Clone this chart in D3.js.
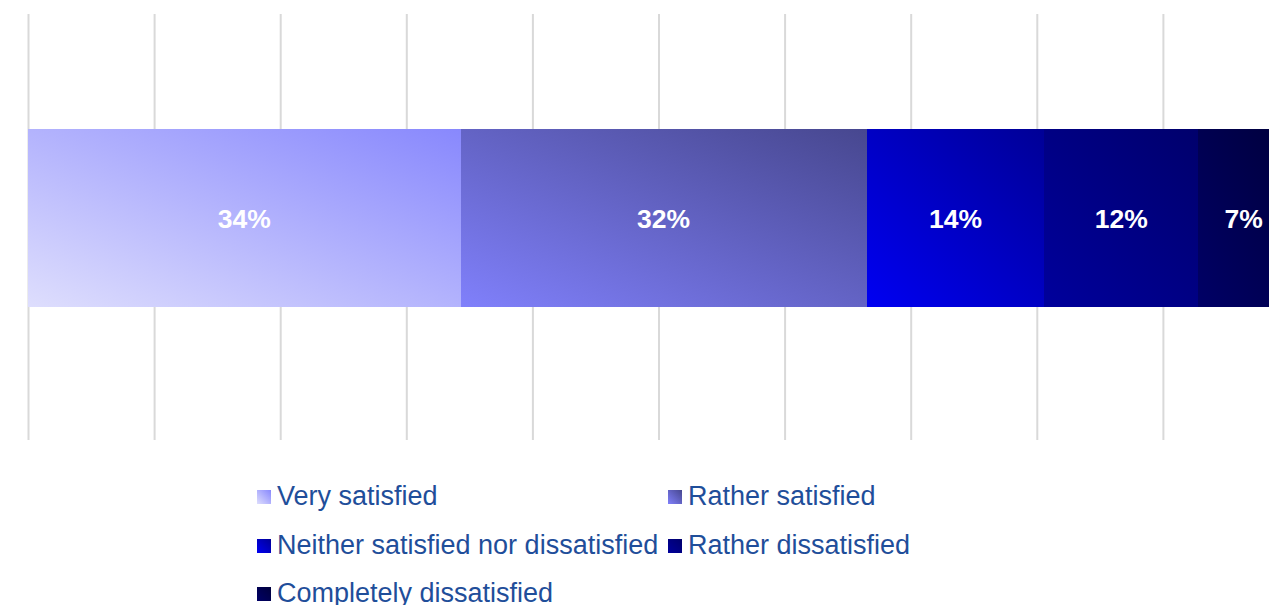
<!DOCTYPE html>
<html>
<head>
<meta charset="utf-8">
<script src="https://cdn.jsdelivr.net/npm/d3@7"></script>
<style>
  html, body { margin: 0; padding: 0; background: #fff; overflow: hidden; }
  svg { display: block; font-family: "Liberation Sans", Arial, sans-serif; }
</style>
</head>
<body>
<svg id="chart" width="1269" height="605"></svg>
<script>
const categories = ["Very satisfied", "Rather satisfied", "Neither satisfied nor dissatisfied", "Rather dissatisfied", "Completely dissatisfied"];
const values = [34.3, 32.2, 14.1, 12.2, 7.2];
const tickValues = [0, 10, 20, 30, 40, 50, 60, 70, 80, 90, 100];
// gradient stops per series: [start (bottom-left), end (top-right)]
const gradStops = [
  ["#dedefd", "#8888fd"],
  ["#8080fb", "#47478f"],
  ["#0000f2", "#000096"],
  ["#00009c", "#00006c"],
  ["#000066", "#00003c"]
];

const svg = d3.select("#chart");

const x = d3.scaleLinear().domain([0, 100]).range([28, 1289]);
const y = d3.scaleBand().domain(["all"]).range([129, 307]).padding(0);

const defs = svg.append("defs");
gradStops.forEach((s, i) => {
  const g = defs.append("linearGradient").attr("id", "g" + i)
    .attr("x1", 0).attr("y1", 1).attr("x2", 1).attr("y2", 0);
  g.append("stop").attr("offset", 0).attr("stop-color", s[0]);
  g.append("stop").attr("offset", 1).attr("stop-color", s[1]);
});

// gridlines
const grid = svg.append("g").attr("transform", "translate(0,440)")
  .call(d3.axisBottom(x).tickValues(tickValues).tickSize(-426).tickFormat(""));
grid.select(".domain").remove();
grid.selectAll(".tick line").attr("stroke", "#d9d9d9").attr("stroke-width", 2);

// stacked data
let cum = 0;
const segs = values.map((v, i) => { const s = { i, v, x0: cum, x1: cum + v }; cum += v; return s; });

const barY = y("all"), barH = y.bandwidth();
svg.append("g").selectAll("rect").data(segs).join("rect")
  .attr("x", d => Math.round(x(d.x0)))
  .attr("y", barY)
  .attr("width", d => Math.round(x(d.x1)) - Math.round(x(d.x0)))
  .attr("height", barH)
  .attr("shape-rendering", "crispEdges")
  .attr("fill", d => `url(#g${d.i})`);

svg.append("g").selectAll("text").data(segs).join("text")
  .attr("x", d => (x(d.x0) + x(d.x1)) / 2)
  .attr("y", barY + barH / 2)
  .attr("dy", "0.36em")
  .attr("text-anchor", "middle")
  .attr("fill", "#fff")
  .attr("font-weight", "bold")
  .attr("font-size", "26.5px")
  .text(d => Math.round(d.v) + "%");

// legend (x, baseline)
const legendPos = [[257, 505], [668, 505], [257, 554], [668, 554], [257, 602]];
const lg = svg.append("g").selectAll("g").data(categories).join("g")
  .attr("transform", (d, i) => `translate(${legendPos[i][0]},${legendPos[i][1]})`);
lg.append("rect").attr("x", 0).attr("y", -15).attr("width", 14).attr("height", 14)
  .attr("fill", (d, i) => `url(#g${i})`);
lg.append("text").attr("x", 20).attr("y", 0)
  .attr("font-size", "27px").attr("fill", "#1f4e9a")
  .text(d => d);
</script>
</body>
</html>
